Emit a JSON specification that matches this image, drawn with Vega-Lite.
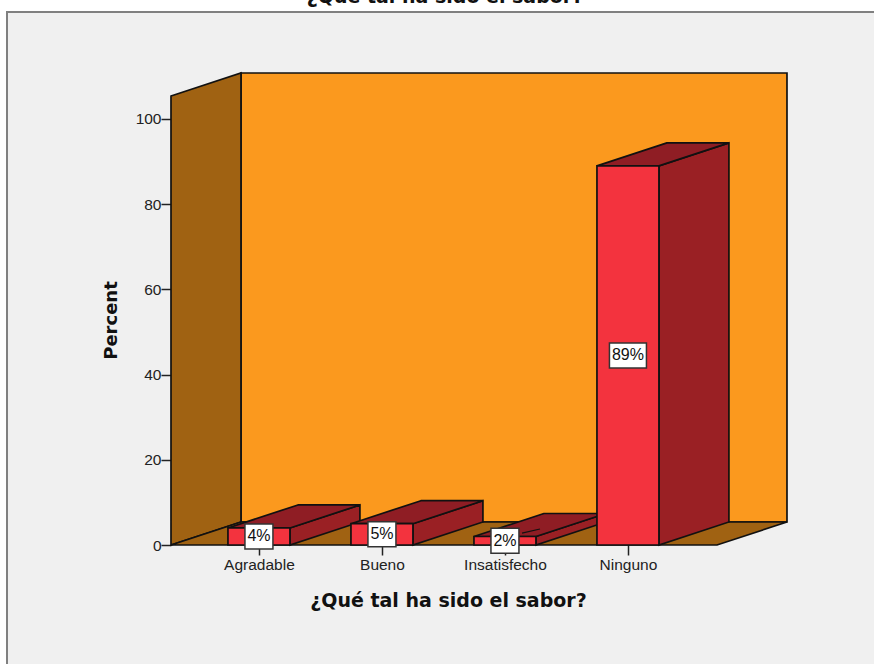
{
  "$schema": "https://vega.github.io/schema/vega-lite/v6.json",
  "width": 870,
  "height": 656,
  "autosize": "none",
  "padding": {"left": 7, "top": 12, "right": 0, "bottom": 0},
  "background": "#ffffff",
  "title": {
    "text": "¿Qué tal ha sido el sabor?",
    "font": "DejaVu Sans",
    "fontSize": 19,
    "fontWeight": "bold",
    "color": "#111111",
    "anchor": "middle",
    "frame": "group",
    "dx": 3,
    "dy": 11,
    "offset": 1,
    "baseline": "alphabetic"
  },
  "config": {
    "view": {"fill": "#f0f0f0", "stroke": "#808080", "strokeWidth": 2},
    "axis": {"grid": false, "domain": false, "tickColor": "#222222", "tickWidth": 1.5, "tickSize": 10, "labelColor": "#222222", "labelFont": "Liberation Sans", "labelFontSize": 15.5, "titleColor": "#111111", "titleFont": "DejaVu Sans", "titleFontWeight": "bold"}
  },
  "datasets": {
    "bars": [
      {"category": "Agradable", "pos": 0.463, "posEnd": 0.967, "center": 0.715, "pct": 4, "pctEnd": 0, "half": 2, "label": "4%"},
      {"category": "Bueno", "pos": 1.463, "posEnd": 1.967, "center": 1.715, "pct": 5, "pctEnd": 0, "half": 2.5, "label": "5%"},
      {"category": "Insatisfecho", "pos": 2.463, "posEnd": 2.967, "center": 2.715, "pct": 2, "pctEnd": 0, "half": 1, "label": "2%"},
      {"category": "Ninguno", "pos": 3.463, "posEnd": 3.967, "center": 3.715, "pct": 89, "pctEnd": 0, "half": 44.5, "label": "89%"}
    ],
    "sides": [
      {"category": "Agradable", "pos": 0.967, "pct": 4, "pctEnd": 0},
      {"category": "Agradable", "pos": 1.536, "pct": 9.4, "pctEnd": 5.4},
      {"category": "Bueno", "pos": 1.967, "pct": 5, "pctEnd": 0},
      {"category": "Bueno", "pos": 2.536, "pct": 10.4, "pctEnd": 5.4},
      {"category": "Insatisfecho", "pos": 2.967, "pct": 2, "pctEnd": 0},
      {"category": "Insatisfecho", "pos": 3.536, "pct": 7.4, "pctEnd": 5.4},
      {"category": "Ninguno", "pos": 3.967, "pct": 89, "pctEnd": 0},
      {"category": "Ninguno", "pos": 4.536, "pct": 94.4, "pctEnd": 5.4}
    ],
    "tops": [
      {"category": "Agradable", "pos": 0.463, "posEnd": 0.967, "pct": 4},
      {"category": "Agradable", "pos": 1.032, "posEnd": 1.536, "pct": 9.4},
      {"category": "Bueno", "pos": 1.463, "posEnd": 1.967, "pct": 5},
      {"category": "Bueno", "pos": 2.032, "posEnd": 2.536, "pct": 10.4},
      {"category": "Insatisfecho", "pos": 2.463, "posEnd": 2.967, "pct": 2},
      {"category": "Insatisfecho", "pos": 3.032, "posEnd": 3.536, "pct": 7.4},
      {"category": "Ninguno", "pos": 3.463, "posEnd": 3.967, "pct": 89},
      {"category": "Ninguno", "pos": 4.032, "posEnd": 4.536, "pct": 94.4}
    ]
  },
  "encoding": {
    "x": {
      "field": "pos",
      "type": "quantitative",
      "scale": {"domain": [-1.3333, 5.7398], "nice": false, "zero": false},
      "axis": {
        "orient": "bottom",
        "offset": -123,
        "values": [0.715, 1.715, 2.715, 3.715],
        "labelExpr": "['Agradable','Bueno','Insatisfecho','Ninguno'][round(datum.value-0.715)]",
        "labelOverlap": false,
        "labelFlush": false,
        "labelPadding": 2,
        "title": "¿Qué tal ha sido el sabor?",
        "titleFontSize": 19,
        "titleX": 441,
        "titleY": 46
      }
    },
    "y": {
      "field": "pct",
      "type": "quantitative",
      "scale": {"domain": [-28.873, 125.117], "nice": false, "zero": false},
      "axis": {
        "orient": "left",
        "offset": -164,
        "values": [0, 20, 40, 60, 80, 100],
        "labelPadding": 0,
        "title": "Percent",
        "titleFontSize": 18,
        "titleX": -51,
        "titleY": 308
      }
    }
  },
  "layer": [
    {
      "data": {"values": [{"pos": 0.569, "posEnd": 5.008, "pct": 110.8, "pctEnd": 5.4}]},
      "mark": {"type": "rect", "fill": "#fb991e", "stroke": "#111111", "strokeWidth": 1.7},
      "encoding": {"x2": {"field": "posEnd"}, "y2": {"field": "pctEnd"}}
    },
    {
      "data": {"values": [
        {"pos": 0, "pct": 105.4, "pctEnd": 0},
        {"pos": 0.569, "pct": 110.8, "pctEnd": 5.4}
      ]},
      "mark": {"type": "area", "fill": "#a06212", "stroke": "#111111", "strokeWidth": 1.7},
      "encoding": {"y2": {"field": "pctEnd"}}
    },
    {
      "data": {"values": [
        {"pct": 0, "pos": 0, "posEnd": 4.439},
        {"pct": 5.4, "pos": 0.569, "posEnd": 5.008}
      ]},
      "mark": {"type": "area", "orient": "horizontal", "fill": "#a06212", "stroke": "#111111", "strokeWidth": 1.7},
      "encoding": {"x2": {"field": "posEnd"}}
    },
    {
      "data": {"name": "sides"},
      "mark": {"type": "area", "fill": "#9a2024", "stroke": "#111111", "strokeWidth": 1.7},
      "encoding": {"y2": {"field": "pctEnd"}, "detail": {"field": "category"}}
    },
    {
      "data": {"name": "tops"},
      "mark": {"type": "area", "orient": "horizontal", "fill": "#8f1d24", "stroke": "#111111", "strokeWidth": 1.7},
      "encoding": {"x2": {"field": "posEnd"}, "detail": {"field": "category"}}
    },
    {
      "data": {"values": [{"pos": 2.854, "pct": 2.8}, {"pos": 3.0, "pct": 3.75}]},
      "mark": {"type": "line", "stroke": "#111111", "strokeWidth": 1.2},
      "encoding": {}
    },
    {
      "data": {"name": "bars"},
      "mark": {"type": "rect", "fill": "#f3333e", "stroke": "#111111", "strokeWidth": 1.7},
      "encoding": {"x2": {"field": "posEnd"}, "y2": {"field": "pctEnd"}}
    },
    {
      "data": {"name": "bars"},
      "transform": [{"filter": "datum.pct < 10"}],
      "mark": {"type": "rect", "width": 28, "height": 25, "fill": "#ffffff", "stroke": "#333333", "strokeWidth": 1.5},
      "encoding": {"x": {"field": "center", "type": "quantitative"}, "y": {"field": "half", "type": "quantitative"}}
    },
    {
      "data": {"name": "bars"},
      "transform": [{"filter": "datum.pct >= 10"}],
      "mark": {"type": "rect", "width": 37, "height": 25, "fill": "#ffffff", "stroke": "#333333", "strokeWidth": 1.5},
      "encoding": {"x": {"field": "center", "type": "quantitative"}, "y": {"field": "half", "type": "quantitative"}}
    },
    {
      "data": {"name": "bars"},
      "mark": {"type": "text", "font": "Liberation Sans", "fontSize": 16, "color": "#111111", "align": "center", "baseline": "middle"},
      "encoding": {"x": {"field": "center", "type": "quantitative"}, "y": {"field": "half", "type": "quantitative"}, "text": {"field": "label"}}
    }
  ]
}
